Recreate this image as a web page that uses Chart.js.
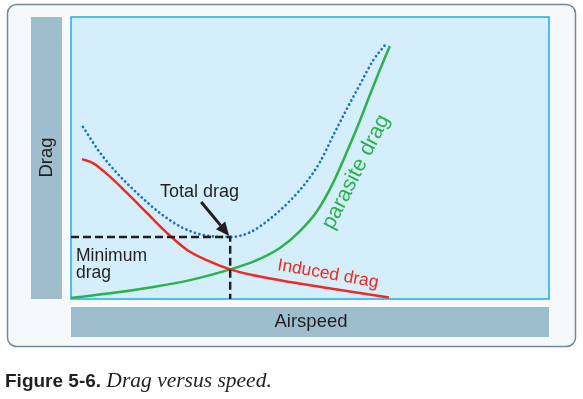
<!DOCTYPE html>
<html>
<head>
<meta charset="utf-8">
<script src="https://cdn.jsdelivr.net/npm/chart.js@4.4.0/dist/chart.umd.min.js"></script>
<style>
  body { margin: 0; background: #fff; }
  #wrap { position: relative; width: 583px; height: 399px; }
  #caption {
    position: absolute; left: 5px; top: 368px;
    font-family: "Liberation Sans", Arial, sans-serif; font-size: 19px; color: #231f20;
    white-space: nowrap;
  }
  #caption b { font-weight: bold; }
  #caption i { font-family: "Liberation Serif", "Times New Roman", serif; font-size: 21.5px; }
</style>
</head>
<body>
<div id="wrap">
  <canvas id="dragChart" width="583" height="399"></canvas>
  <div id="caption"><b>Figure 5-6.</b> <i>Drag versus speed.</i></div>
</div>
<script>
// airspeed (0-100 across the plot) and drag (0-100 up the plot)
const totalX = [2.5, 6.1, 9.6, 13.8, 18.6, 23.4, 27.6, 33.3, 37.4, 41.6, 45.8, 49.4, 52.1, 54.8, 57.7, 60.5, 63.2, 65.7];
const totalY = [61.0, 51.8, 44.7, 37.6, 30.5, 25.2, 22.7, 22.0, 23.6, 28.4, 34.8, 41.8, 48.6, 57.8, 67.4, 76.2, 84.6, 90.1];

const inducedX = [2.3, 4.6, 8.2, 11.7, 15.9, 20.1, 24.3, 28.5, 33.3, 38.5, 45.8, 56.3, 66.5];
const inducedY = [49.6, 48.2, 43.3, 37.6, 30.5, 23.4, 17.4, 13.7, 10.5, 8.3, 6.0, 3.2, 0.5];

const parasiteX = [0, 8.2, 16.5, 24.9, 33.3, 38.5, 43.7, 47.9, 51.5, 54.8, 57.7, 60.5, 62.6, 64.6, 66.7];
const parasiteY = [0.4, 2.0, 4.1, 6.7, 10.5, 13.5, 18.1, 24.1, 31.2, 41.1, 52.1, 63.5, 72.7, 81.2, 89.7];

const toPoints = (xs, ys) => xs.map((x, i) => ({ x: x, y: ys[i] }));

const FONT = '"Liberation Sans", Arial, sans-serif';
const INK = '#231f20';

// index of the lowest total drag point
let minIdx = 0;
totalY.forEach((v, i) => { if (v < totalY[minIdx]) minIdx = i; });

function roundRect(ctx, x, y, w, h, r) {
    ctx.beginPath();
    ctx.moveTo(x + r, y);
    ctx.arcTo(x + w, y, x + w, y + h, r);
    ctx.arcTo(x + w, y + h, x, y + h, r);
    ctx.arcTo(x, y + h, x, y, r);
    ctx.arcTo(x, y, x + w, y, r);
    ctx.closePath();
}

const frame = {
    id: 'frame',
    beforeDraw: (chart) => {
        const ctx = chart.ctx;
        const a = chart.chartArea;
        ctx.save();
        // outer box
        roundRect(ctx, 7.5, 4.5, 568, 342, 9);
        ctx.fillStyle = '#f5f9fc';
        ctx.fill();
        ctx.lineWidth = 1.5;
        ctx.strokeStyle = '#73899a';
        ctx.stroke();
        // axis bars
        ctx.fillStyle = '#9ebdcd';
        ctx.fillRect(31, a.top, 31, a.bottom - a.top);
        ctx.fillRect(a.left, 307, a.right - a.left, 30);
        ctx.fillStyle = INK;
        ctx.font = '18.5px ' + FONT;
        ctx.textAlign = 'center';
        ctx.textBaseline = 'middle';
        ctx.fillText('Airspeed', (a.left + a.right) / 2 + 1, 322);
        ctx.save();
        ctx.translate(46.5, 157.5);
        ctx.rotate(-Math.PI / 2);
        ctx.fillText('Drag', 0, 0);
        ctx.restore();
        // plot area
        ctx.fillStyle = '#d4eefb';
        ctx.fillRect(a.left, a.top, a.right - a.left, a.bottom - a.top);
        ctx.lineWidth = 1.5;
        ctx.strokeStyle = '#18afe9';
        ctx.strokeRect(a.left, a.top, a.right - a.left, a.bottom - a.top);
        ctx.restore();
    },
    afterDatasetsDraw: (chart) => {
        const ctx = chart.ctx;
        const a = chart.chartArea;
        const xs = chart.scales.x, ys = chart.scales.y;
        const mx = xs.getPixelForValue(totalX[minIdx]);
        const my = ys.getPixelForValue(totalY[minIdx]);
        ctx.save();
        // minimum drag guide lines
        ctx.strokeStyle = INK;
        ctx.lineWidth = 2.5;
        ctx.setLineDash([8, 4]);
        ctx.beginPath();
        ctx.moveTo(a.left, my);
        ctx.lineTo(mx, my);
        ctx.lineTo(mx, a.bottom);
        ctx.stroke();
        ctx.setLineDash([]);
        // arrow to the minimum
        const sx = mx - 29, sy = my - 35;
        const ang = Math.atan2(my - sy, mx - sx);
        const hx = mx - 15 * Math.cos(ang), hy = my - 15 * Math.sin(ang);
        ctx.lineWidth = 3;
        ctx.beginPath();
        ctx.moveTo(sx, sy);
        ctx.lineTo(hx, hy);
        ctx.stroke();
        ctx.fillStyle = INK;
        ctx.beginPath();
        ctx.moveTo(mx - 1, my - 1);
        ctx.lineTo(hx + 6 * Math.sin(ang), hy - 6 * Math.cos(ang));
        ctx.lineTo(hx - 6 * Math.sin(ang), hy + 6 * Math.cos(ang));
        ctx.closePath();
        ctx.fill();
        // labels
        ctx.font = '18px ' + FONT;
        ctx.textAlign = 'left';
        ctx.textBaseline = 'alphabetic';
        ctx.fillText('Total drag', 160, 197);
        ctx.font = '17.5px ' + FONT;
        ctx.fillText('Minimum', 76, 261);
        ctx.fillText('drag', 76, 278);

        ctx.fillStyle = '#ee2a24';
        ctx.save();
        ctx.translate(328, 274);
        ctx.rotate(10 * Math.PI / 180);
        ctx.textAlign = 'center';
        ctx.textBaseline = 'middle';
        ctx.fillText('Induced drag', 0, 0);
        ctx.restore();

        ctx.fillStyle = '#2bb24c';
        ctx.save();
        ctx.translate(356, 172);
        ctx.rotate(-63 * Math.PI / 180);
        ctx.font = '21.5px ' + FONT;
        ctx.textAlign = 'center';
        ctx.textBaseline = 'middle';
        ctx.fillText('parasite drag', 0, 0);
        ctx.restore();
        ctx.restore();
    }
};

new Chart(document.getElementById('dragChart').getContext('2d'), {
    type: 'line',
    data: {
        datasets: [{
            label: 'Induced drag',
            data: toPoints(inducedX, inducedY),
            borderColor: '#ee2a24',
            borderWidth: 2.5,
            pointRadius: 0,
            cubicInterpolationMode: 'monotone'
        }, {
            label: 'Parasite drag',
            data: toPoints(parasiteX, parasiteY),
            borderColor: '#2bb24c',
            borderWidth: 2.5,
            pointRadius: 0,
            cubicInterpolationMode: 'monotone'
        }, {
            label: 'Total drag',
            data: toPoints(totalX, totalY),
            borderColor: '#1a72c2',
            borderWidth: 2.7,
            borderDash: [0.1, 4.5],
            borderCapStyle: 'round',
            pointRadius: 0,
            cubicInterpolationMode: 'monotone'
        }]
    },
    options: {
        responsive: false,
        animation: false,
        devicePixelRatio: 1,
        layout: { padding: { left: 71, top: 17, right: 34, bottom: 100 } },
        plugins: { legend: { display: false }, tooltip: { enabled: false } },
        scales: {
            x: { type: 'linear', min: 0, max: 100, display: false },
            y: { type: 'linear', min: 0, max: 100, display: false }
        }
    },
    plugins: [frame]
});
</script>
</body>
</html>
